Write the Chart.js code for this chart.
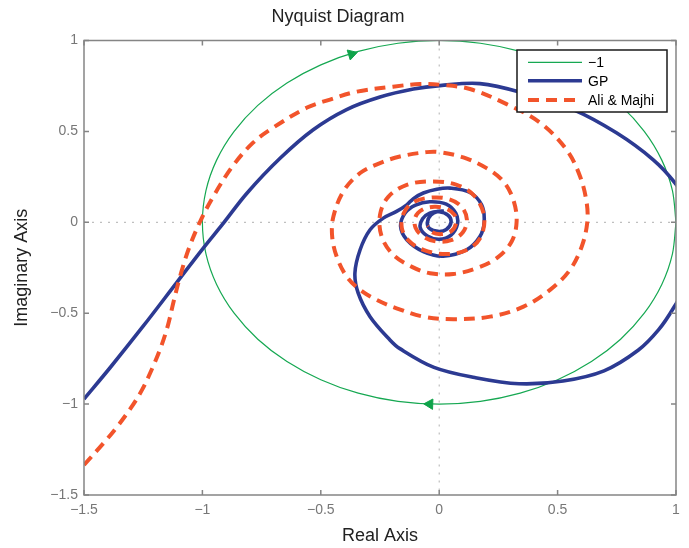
<!DOCTYPE html>
<html>
<head>
<meta charset="utf-8">
<title>Nyquist Diagram</title>
<script src="https://cdn.jsdelivr.net/npm/chart.js@4.4.0/dist/chart.umd.min.js"></script>
<style>
  html, body { margin: 0; padding: 0; background: #fff; }
  canvas { display: block; }
</style>
</head>
<body>
<canvas id="nyquist" width="689" height="548"></canvas>
<script>
// axis ticks
const xTicks = [-1.5, -1, -0.5, 0, 0.5, 1];
const yTicks = [-1.5, -1, -0.5, 0, 0.5, 1];

// "-1" curve: the unit circle
const circleX = [1, 0.985, 0.94, 0.866, 0.766, 0.643, 0.5, 0.342, 0.174, 0,
  -0.174, -0.342, -0.5, -0.643, -0.766, -0.866, -0.94, -0.985, -1,
  -0.985, -0.94, -0.866, -0.766, -0.643, -0.5, -0.342, -0.174, 0,
  0.174, 0.342, 0.5, 0.643, 0.766, 0.866, 0.94, 0.985, 1];
const circleY = [0, 0.174, 0.342, 0.5, 0.643, 0.766, 0.866, 0.94, 0.985, 1,
  0.985, 0.94, 0.866, 0.766, 0.643, 0.5, 0.342, 0.174, 0,
  -0.174, -0.342, -0.5, -0.643, -0.766, -0.866, -0.94, -0.985, -1,
  -0.985, -0.94, -0.866, -0.766, -0.643, -0.5, -0.342, -0.174, 0];

// direction arrows on the circle
const arrowX = [-0.37, -0.04];
const arrowY = [0.925, -1.0];
const arrowAngle = [73, 272];

// GP
const gpX = [-1.5, -1.39, -1.251, -1.107, -0.997, -0.912, -0.812, -0.672, -0.532, -0.391,
  -0.25, -0.109, 0.003, 0.172, 0.356, 0.566, 0.75, 0.904, 0.996, 1.06,
  1.085, 1.06, 0.99, 0.926, 0.84, 0.696, 0.523, 0.337, 0.15, -0.022,
  -0.166, -0.208, -0.292, -0.342, -0.356, -0.334, -0.292, -0.236, -0.18, -0.137,
  -0.109, -0.067, -0.01, 0.046, 0.13, 0.179, 0.19, 0.172, 0.116, 0.017,
  -0.067, -0.137, -0.163, -0.144, -0.1, -0.04, 0.03, 0.07, 0.077, 0.05,
  0.0, -0.05, -0.08, -0.07, -0.04, 0.0, 0.038, 0.05, 0.03, -0.005,
  -0.04, -0.05, -0.035, -0.005, 0.02];
const gpY = [-0.972, -0.8, -0.573, -0.329, -0.143, -0.006, 0.16, 0.352, 0.509, 0.62,
  0.689, 0.733, 0.752, 0.763, 0.711, 0.62, 0.491, 0.344, 0.216, 0.08,
  -0.1, -0.3, -0.47, -0.592, -0.704, -0.817, -0.873, -0.888, -0.854, -0.798,
  -0.695, -0.647, -0.519, -0.39, -0.28, -0.151, -0.041, 0.023, 0.06, 0.096,
  0.13, 0.161, 0.182, 0.188, 0.164, 0.096, 0.004, -0.078, -0.151, -0.186,
  -0.161, -0.096, -0.023, 0.051, 0.095, 0.113, 0.1, 0.05, -0.01, -0.07,
  -0.093, -0.075, -0.03, 0.02, 0.05, 0.058, 0.038, 0.0, -0.04, -0.05,
  -0.035, 0.0, 0.04, 0.06, 0.062];

// Ali & Majhi
const amX = [-1.5, -1.417, -1.361, -1.302, -1.255, -1.213, -1.175, -1.145, -1.12, -1.09,
  -1.056, -1.01, -0.955, -0.871, -0.786, -0.702, -0.558, -0.461, -0.347, -0.195,
  -0.081, 0.003, 0.13, 0.285, 0.426, 0.538, 0.595, 0.623, 0.625, 0.602,
  0.552, 0.468, 0.356, 0.215, 0.06, -0.067, -0.18, -0.264, -0.334, -0.391,
  -0.433, -0.452, -0.447, -0.405, -0.334, -0.25, -0.166, -0.053, 0.0, 0.102,
  0.2, 0.271, 0.313, 0.327, 0.306, 0.243, 0.158, 0.06, -0.039, -0.115,
  -0.194, -0.243, -0.25, -0.215, -0.137, -0.032, 0.074, 0.151, 0.19, 0.173,
  0.116, 0.03, -0.067, -0.13, -0.158, -0.15, -0.11, -0.04, 0.04, 0.095,
  0.117, 0.1, 0.05, -0.01, -0.065, -0.1, -0.1, -0.07, -0.02, 0.03,
  0.065, 0.07, 0.05, 0.01, -0.03, -0.05];
const amY = [-1.335, -1.214, -1.126, -1.021, -0.922, -0.807, -0.686, -0.564, -0.427, -0.278,
  -0.14, 0.003, 0.14, 0.311, 0.438, 0.52, 0.631, 0.675, 0.719, 0.746,
  0.761, 0.757, 0.733, 0.65, 0.548, 0.399, 0.252, 0.106, -0.004, -0.133,
  -0.262, -0.372, -0.464, -0.519, -0.533, -0.519, -0.473, -0.427, -0.372, -0.298,
  -0.188, -0.078, 0.03, 0.17, 0.271, 0.326, 0.362, 0.386, 0.386, 0.357,
  0.298, 0.225, 0.124, 0.005, -0.106, -0.197, -0.252, -0.284, -0.28, -0.245,
  -0.179, -0.078, 0.041, 0.14, 0.206, 0.225, 0.206, 0.142, 0.03, -0.087,
  -0.152, -0.175, -0.152, -0.1, -0.03, 0.05, 0.11, 0.135, 0.128, 0.085,
  0.015, -0.055, -0.098, -0.106, -0.08, -0.03, 0.03, 0.07, 0.085, 0.075,
  0.04, -0.01, -0.05, -0.065, -0.055, -0.02];

const pts = (xs, ys) => xs.map((x, i) => ({ x: x, y: ys[i] }));
const minus = v => (v < 0 ? '\u2212' + Math.abs(v) : String(v));

Chart.defaults.font.family = "'Liberation Sans', Arial, Helvetica, sans-serif";

// MATLAB-like axes: zero lines, box, inward ticks, boxed legend
const axesBox = {
  id: 'axesBox',
  beforeDatasetsDraw(chart) {
    const { ctx, chartArea: a, scales: { x, y } } = chart;
    const x0 = x.getPixelForValue(0), y0 = y.getPixelForValue(0);
    ctx.save();
    ctx.strokeStyle = '#b0b0b0';
    ctx.lineWidth = 1;
    ctx.setLineDash([2, 6]);
    ctx.beginPath();
    ctx.moveTo(x0, a.top); ctx.lineTo(x0, a.bottom);
    ctx.moveTo(a.left, y0); ctx.lineTo(a.right, y0);
    ctx.stroke();
    ctx.restore();
  },
  afterDatasetsDraw(chart) {
    const { ctx, chartArea: a, scales: { x, y } } = chart;
    ctx.save();
    ctx.strokeStyle = '#858585';
    ctx.lineWidth = 1.5;
    ctx.strokeRect(a.left, a.top, a.right - a.left, a.bottom - a.top);
    ctx.beginPath();
    xTicks.forEach(v => {
      const p = x.getPixelForValue(v);
      ctx.moveTo(p, a.bottom); ctx.lineTo(p, a.bottom - 5);
      ctx.moveTo(p, a.top); ctx.lineTo(p, a.top + 5);
    });
    yTicks.forEach(v => {
      const p = y.getPixelForValue(v);
      ctx.moveTo(a.left, p); ctx.lineTo(a.left + 5, p);
      ctx.moveTo(a.right, p); ctx.lineTo(a.right - 5, p);
    });
    ctx.stroke();

    // legend
    const w = 150, h = 62;
    const lx = a.right - 9 - w, ly = a.top + 9.5;
    ctx.fillStyle = '#fff';
    ctx.fillRect(lx, ly, w, h);
    ctx.strokeStyle = '#1a1a1a';
    ctx.lineWidth = 1.5;
    ctx.strokeRect(lx, ly, w, h);
    const rows = [12.3, 30.7, 50];
    ctx.font = "14px 'Liberation Sans', Arial, sans-serif";
    ctx.textBaseline = 'middle';
    chart.data.datasets.slice(0, 3).forEach((ds, i) => {
      const ry = ly + rows[i];
      ctx.strokeStyle = ds.borderColor;
      ctx.lineWidth = ds.borderWidth;
      ctx.setLineDash(ds.borderDash || []);
      ctx.beginPath();
      ctx.moveTo(lx + 11, ry); ctx.lineTo(lx + 65, ry);
      ctx.stroke();
      ctx.setLineDash([]);
      ctx.fillStyle = '#000';
      ctx.fillText(ds.label, lx + 71, ry + 1);
    });
    ctx.restore();
  }
};

new Chart(document.getElementById('nyquist'), {
  type: 'scatter',
  data: {
    datasets: [
      {
        label: '\u22121',
        data: pts(circleX, circleY),
        showLine: true,
        borderColor: '#16a852',
        borderWidth: 1.2,
        pointRadius: 0,
        tension: 0.3,
        clip: 0,
        order: 3
      },
      {
        label: 'GP',
        data: pts(gpX, gpY),
        showLine: true,
        borderColor: '#2c3a92',
        borderWidth: 3.6,
        pointRadius: 0,
        tension: 0.35,
        clip: 0,
        order: 2
      },
      {
        label: 'Ali & Majhi',
        data: pts(amX, amY),
        showLine: true,
        borderColor: '#f2542b',
        borderWidth: 4,
        borderDash: [11, 7],
        pointRadius: 0,
        tension: 0.35,
        clip: 0,
        order: 1
      },
      {
        label: 'arrows',
        data: pts(arrowX, arrowY),
        showLine: false,
        pointStyle: 'triangle',
        pointRadius: 6,
        pointRotation: arrowAngle,
        pointBackgroundColor: '#0fa34a',
        pointBorderColor: '#0fa34a',
        pointBorderWidth: 1,
        order: 0
      }
    ]
  },
  options: {
    responsive: false,
    animation: false,
    events: [],
    layout: { padding: { left: 0, right: 13, top: 0, bottom: 0 } },
    plugins: {
      legend: { display: false },
      tooltip: { enabled: false },
      title: {
        display: true,
        text: 'Nyquist Diagram',
        color: '#222',
        font: { size: 18, weight: 'normal', lineHeight: 1.2 },
        padding: { top: 6, bottom: 12.9 }
      }
    },
    scales: {
      x: {
        type: 'linear',
        min: -1.5,
        max: 1,
        afterBuildTicks: s => { s.ticks = xTicks.map(v => ({ value: v })); },
        afterFit: s => { s.height = 53; },
        grid: { display: false, drawTicks: false },
        border: { display: false },
        ticks: { color: '#777', font: { size: 14 }, padding: 7, callback: minus },
        title: {
          display: true,
          text: 'Real Axis',
          color: '#222',
          font: { size: 18 },
          padding: { top: 0, bottom: 1.5 }
        }
      },
      y: {
        type: 'linear',
        min: -1.5,
        max: 1,
        afterBuildTicks: s => { s.ticks = yTicks.map(v => ({ value: v })); },
        afterFit: s => { s.width = 84; },
        grid: { display: false, drawTicks: false },
        border: { display: false },
        ticks: { color: '#777', font: { size: 14 }, padding: 6, callback: minus },
        title: {
          display: true,
          text: 'Imaginary Axis',
          color: '#222',
          font: { size: 18 },
          padding: { top: 11.5, bottom: 0 }
        }
      }
    }
  },
  plugins: [axesBox]
});
</script>
</body>
</html>
